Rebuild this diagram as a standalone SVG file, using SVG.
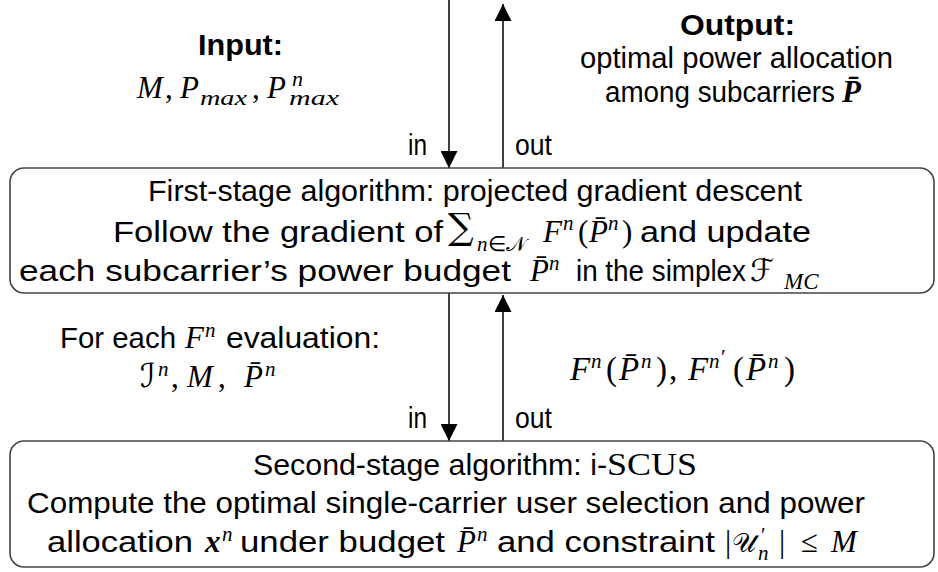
<svg xmlns="http://www.w3.org/2000/svg" width="938" height="572" viewBox="0 0 938 572">
<defs>
<style>
.sf{font-family:"Liberation Sans",Arial,sans-serif;font-size:29px;fill:#000}
.bf{font-weight:bold}
.mi{font-family:"Liberation Serif","Times New Roman",serif;font-style:italic;font-size:31px;fill:#000}
.mr{font-family:"Liberation Serif","Times New Roman",serif;font-style:normal;font-size:31px;fill:#000}
.mb{font-family:"Liberation Serif","Times New Roman",serif;font-style:italic;font-weight:bold;font-size:31px;fill:#000}
.cal{font-family:"DejaVu Sans","Noto Sans",serif;font-style:normal;font-size:29px;fill:#000}
.op{font-family:"DejaVu Serif","Liberation Serif",serif;font-style:normal;font-size:36px;fill:#000}
.sc{font-size:21px}
.big{font-size:33px}
.box{fill:#fff;stroke:#444;stroke-width:1.6}
.arr{stroke:#000;stroke-width:1.5;fill:none;marker-end:url(#ah)}
</style>
<marker id="ah" markerWidth="17" markerHeight="17" refX="17" refY="8.5" orient="auto" markerUnits="userSpaceOnUse">
<path d="M0,0 L17,8.5 L0,17 z" fill="#000"/>
</marker>
</defs>
<rect width="938" height="572" fill="#fff"/>

<g id="input-label">
<text class="sf bf" x="198" y="55" textLength="85" lengthAdjust="spacingAndGlyphs">Input:</text>
<text class="mi" x="137" y="98">M</text>
<text class="mr" x="165" y="98">,</text>
<text class="mi" x="180" y="98">P</text>
<text class="mi" x="200" y="105" style="font-size:22px" textLength="47" lengthAdjust="spacingAndGlyphs">max</text>
<text class="mr" x="252" y="98">,</text>
<text class="mi" x="267" y="98">P</text>
<text class="mi" x="292" y="86" style="font-size:22px">n</text>
<text class="mi" x="289" y="105" style="font-size:22px" textLength="50" lengthAdjust="spacingAndGlyphs">max</text>
</g>

<g id="output-label">
<text class="sf bf" x="680" y="35" textLength="115" lengthAdjust="spacingAndGlyphs">Output:</text>
<text class="sf" x="580" y="68" textLength="313" lengthAdjust="spacingAndGlyphs">optimal power allocation</text>
<text class="sf" x="605" y="102" textLength="230" lengthAdjust="spacingAndGlyphs">among subcarriers</text>
<text class="mb" x="842" y="102">P̄</text>
</g>

<g id="connectors">
<line class="arr" x1="449" y1="0" x2="449" y2="168"/>
<line class="arr" x1="503" y1="168" x2="503" y2="4"/>
<line class="arr" x1="449" y1="293" x2="449" y2="441"/>
<line class="arr" x1="503" y1="441" x2="503" y2="295"/>
<text class="sf" x="408" y="155" textLength="19" lengthAdjust="spacingAndGlyphs">in</text>
<text class="sf" x="515" y="155" textLength="37" lengthAdjust="spacingAndGlyphs">out</text>
<text class="sf" x="408" y="428" textLength="19" lengthAdjust="spacingAndGlyphs">in</text>
<text class="sf" x="515" y="428" textLength="37" lengthAdjust="spacingAndGlyphs">out</text>
</g>

<g id="first-stage">
<rect class="box" x="10" y="168" width="924" height="125" rx="14"/>
<text class="sf" x="148" y="201" textLength="654" lengthAdjust="spacingAndGlyphs">First-stage algorithm: projected gradient descent</text>
<text class="sf" x="113" y="242" textLength="330" lengthAdjust="spacingAndGlyphs">Follow the gradient of</text>
<text class="op" x="448" y="239">∑</text>
<text x="477" y="251"><tspan class="mi sc">n</tspan><tspan class="mr sc">∈</tspan><tspan class="cal sc">𝒩</tspan></text>
<text class="mi" x="543" y="242">F</text>
<text class="mi sc" x="563" y="230">n</text>
<text class="mr" x="578" y="242">(</text>
<text class="mi" x="589" y="242">P̄</text>
<text class="mi sc" x="608" y="230">n</text>
<text class="mr" x="622" y="242">)</text>
<text class="sf" x="640" y="242" textLength="171" lengthAdjust="spacingAndGlyphs">and update</text>
<text class="sf" x="19" y="281" textLength="492" lengthAdjust="spacingAndGlyphs">each subcarrier’s power budget</text>
<text class="mi" x="530" y="281">P̄</text>
<text class="mi sc" x="549" y="270">n</text>
<text class="sf" x="576" y="281" textLength="170" lengthAdjust="spacingAndGlyphs">in the simplex</text>
<text class="cal" x="750" y="281" style="font-size:31px">ℱ</text>
<text class="mi" x="784" y="289" style="font-size:23px">MC</text>
</g>

<g id="middle-labels">
<text class="sf" x="60" y="348" textLength="116" lengthAdjust="spacingAndGlyphs">For each</text>
<text class="mi" x="185" y="348">F</text>
<text class="mi sc" x="205" y="337">n</text>
<text class="sf" x="226" y="348" textLength="154" lengthAdjust="spacingAndGlyphs">evaluation:</text>
<text class="cal" x="140" y="387" style="font-size:33px">ℐ</text>
<text class="mi sc" x="158" y="376">n</text>
<text class="mr" x="171" y="387">,</text>
<text class="mi" x="187" y="387">M</text>
<text class="mr" x="218" y="387">,</text>
<text class="mi" x="244" y="387">P̄</text>
<text class="mi sc" x="265" y="376">n</text>
<text class="mi big" x="570" y="380">F</text>
<text class="mi sc" x="591" y="368">n</text>
<text class="mr big" x="606" y="380">(</text>
<text class="mi big" x="619" y="380">P̄</text>
<text class="mi sc" x="641" y="368">n</text>
<text class="mr big" x="656" y="380">)</text>
<text class="mr big" x="669" y="380">,</text>
<text class="mi big" x="688" y="380">F</text>
<text class="mi sc" x="709" y="368">n</text>
<text class="mr sc" x="721" y="364">′</text>
<text class="mr big" x="733" y="380">(</text>
<text class="mi big" x="746" y="380">P̄</text>
<text class="mi sc" x="768" y="368">n</text>
<text class="mr big" x="784" y="380">)</text>
</g>

<g id="second-stage">
<rect class="box" x="10" y="441" width="924" height="126" rx="14"/>
<text class="sf" x="253" y="475" textLength="354" lengthAdjust="spacingAndGlyphs">Second-stage algorithm: i-</text>
<text class="mr" x="607" y="475" textLength="90" lengthAdjust="spacingAndGlyphs">SCUS</text>
<text class="sf" x="27" y="513" textLength="838" lengthAdjust="spacingAndGlyphs">Compute the optimal single-carrier user selection and power</text>
<text class="sf" x="47" y="552" textLength="146" lengthAdjust="spacingAndGlyphs">allocation</text>
<text class="mb" x="205" y="552">x</text>
<text class="mi sc" x="222" y="541">n</text>
<text class="sf" x="240" y="552" textLength="205" lengthAdjust="spacingAndGlyphs">under budget</text>
<text class="mi" x="457" y="552">P̄</text>
<text class="mi sc" x="477" y="541">n</text>
<text class="sf" x="497" y="552" textLength="218" lengthAdjust="spacingAndGlyphs">and constraint</text>
<text class="mr" x="725" y="552">|</text>
<text class="cal" x="732" y="552" style="font-size:27px">𝒰</text>
<text class="mr sc" x="761" y="542">′</text>
<text class="mi sc" x="758" y="560">n</text>
<text class="mr" x="779" y="552">|</text>
<text class="mr" x="801" y="552">≤</text>
<text class="mi" x="831" y="552">M</text>
</g>
</svg>
